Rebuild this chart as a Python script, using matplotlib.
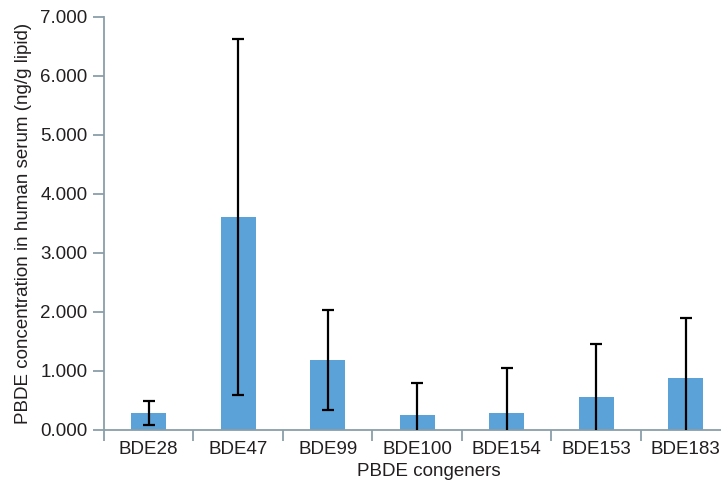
import matplotlib
matplotlib.use("Agg")
import matplotlib.pyplot as plt
import matplotlib.ticker as mticker

plt.rcParams["font.family"] = ["Liberation Sans", "DejaVu Sans"]

congeners = ["BDE28", "BDE47", "BDE99", "BDE100", "BDE154", "BDE153", "BDE183"]
mean_conc = [0.29, 3.61, 1.19, 0.26, 0.29, 0.56, 0.88]
sd_conc = [0.20, 3.01, 0.85, 0.54, 0.76, 0.89, 1.01]

BAR_COLOR = "#5aa2d8"
AXIS_COLOR = "#8a9ea8"
TEXT_COLOR = "#231f20"
FS = 13.5

fig = plt.figure(figsize=(7.21, 4.84), dpi=100)
ax = fig.add_axes([0.1442, 0.1116, 0.8558, 0.8533])

x = list(range(len(congeners)))
ax.bar(x, mean_conc, width=0.39, color=BAR_COLOR, zorder=2)
ax.errorbar(x, mean_conc, yerr=sd_conc, fmt="none", ecolor="black",
            elinewidth=1.6, capsize=4, capthick=1.6, zorder=3)

ax.set_ylim(0, 7)
ax.set_xlim(-0.5, 6.394)
ax.yaxis.set_major_locator(mticker.MultipleLocator(1))
ax.yaxis.set_major_formatter(mticker.FuncFormatter(lambda v, _: f"{v:.3f}"))

# ticks sit on the category boundaries, labels in the middle
ax.set_xticks([i - 0.5 for i in range(len(congeners))])
ax.set_xticklabels([])
ax.set_xticks(x, minor=True)
ax.set_xticklabels(congeners, minor=True)
ax.tick_params(axis="x", which="major", length=8, width=1.3, color=AXIS_COLOR, direction="out")
ax.tick_params(axis="x", which="minor", length=0, pad=8, labelsize=FS, labelcolor=TEXT_COLOR)
ax.tick_params(axis="y", length=8, width=1.3, color=AXIS_COLOR, labelsize=FS,
               labelcolor=TEXT_COLOR, pad=4)

ax.spines[["top", "right"]].set_visible(False)
for side in ["left", "bottom"]:
    ax.spines[side].set_color(AXIS_COLOR)
    ax.spines[side].set_linewidth(1.3)

ax.set_ylabel("PBDE concentration in human serum (ng/g lipid)", fontsize=FS,
              color=TEXT_COLOR)
ax.yaxis.set_label_coords(-0.117, 0.5)
ax.set_xlabel("PBDE congeners", fontsize=FS, color=TEXT_COLOR)
ax.xaxis.set_label_coords(0.527, -0.08)

fig.savefig("out.png", dpi=100)
